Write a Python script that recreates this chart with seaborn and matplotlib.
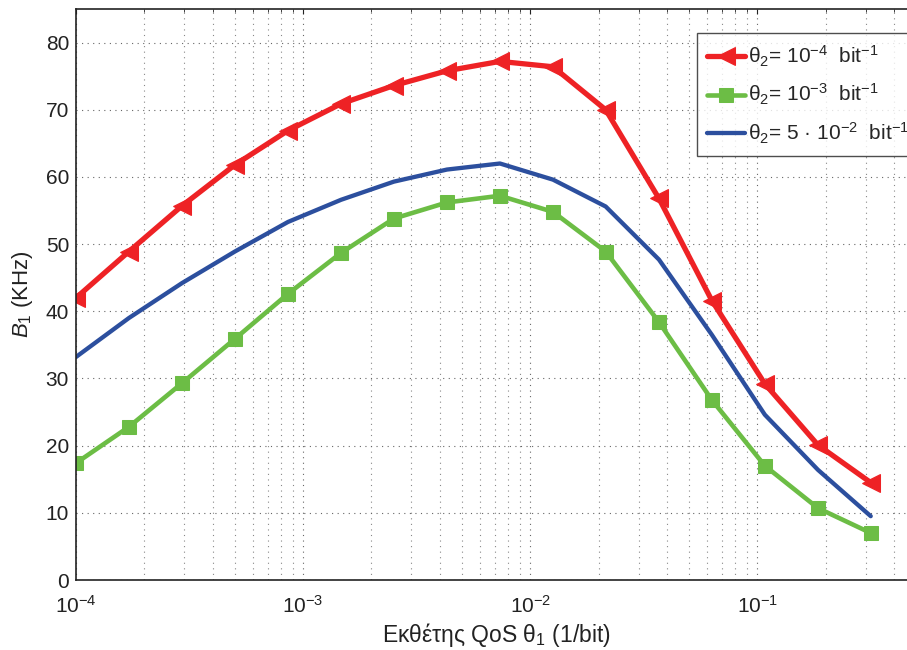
import numpy as np
import pandas as pd
import matplotlib
matplotlib.use("Agg")
import matplotlib.pyplot as plt
import seaborn as sns
from matplotlib.ticker import LogLocator, NullFormatter

theta1 = [1.00e-4, 1.71e-4, 2.93e-4, 5.01e-4, 8.58e-4, 1.47e-3, 2.51e-3, 4.30e-3,
          7.36e-3, 1.26e-2, 2.15e-2, 3.69e-2, 6.31e-2, 1.08e-1, 1.85e-1, 3.16e-1]
b_red = [42.0, 48.9, 55.7, 61.8, 66.9, 70.9, 73.6, 75.8, 77.2, 76.4, 70.0, 56.8, 41.6, 29.2, 20.1, 14.5]
b_green = [17.4, 22.8, 29.3, 35.9, 42.6, 48.7, 53.8, 56.2, 57.2, 54.8, 48.9, 38.4, 26.8, 17.0, 10.7, 7.0]
b_blue = [33.2, 39.0, 44.2, 48.9, 53.3, 56.6, 59.3, 61.1, 62.0, 59.6, 55.6, 47.7, 36.5, 24.6, 16.4, 9.5]

labels = ['θ$_2$= 10$^{-4}$  bit$^{-1}$',
          'θ$_2$= 10$^{-3}$  bit$^{-1}$',
          'θ$_2$= 5 · 10$^{-2}$  bit$^{-1}$']
xticks = [1e-4, 1e-3, 1e-2, 1e-1]
yticks = [0, 10, 20, 30, 40, 50, 60, 70, 80]

sns.set_style("white")
plt.rcParams['font.family'] = ['Liberation Sans', 'DejaVu Sans']
plt.rcParams['mathtext.fontset'] = 'custom'
plt.rcParams['mathtext.rm'] = 'Liberation Sans'
plt.rcParams['mathtext.it'] = 'Liberation Sans:italic'

df = pd.DataFrame({
    'x': theta1 * 3,
    'y': b_red + b_green + b_blue,
    'series': [labels[0]] * 16 + [labels[1]] * 16 + [labels[2]] * 16,
})

fig = plt.figure(figsize=(9.07, 6.5), dpi=100)
ax = fig.add_axes([76 / 907, 70 / 650, (916 - 76) / 907, (580 - 9) / 650])

colors = ['#EE2225', '#6CBD45', '#2C4F9E']
markers = ['<', 's', '']
msizes = [13.5, 9.5, 0]
lws = [3.8, 3.3, 3.1]
for lab, c, m, ms, lw in zip(labels, colors, markers, msizes, lws):
    sub = df[df['series'] == lab]
    sns.lineplot(data=sub, x='x', y='y', ax=ax, color=c, lw=lw,
                 marker=m if m else None, markersize=ms,
                 markeredgecolor=c, markerfacecolor=c, label=lab)

ax.set_xscale('log')
ax.set_xlim(1e-4, 0.5)
ax.set_ylim(0, 85)
ax.set_xticks(xticks)
ax.xaxis.set_minor_locator(LogLocator(base=10, subs=np.arange(2, 10)))
ax.xaxis.set_minor_formatter(NullFormatter())
ax.set_yticks(yticks)
ax.grid(True, which='major', linestyle=(0, (1, 4)), color='#666666', lw=0.8)
ax.grid(True, which='minor', axis='x', linestyle=(0, (1, 4)), color='#888888', lw=0.8)
ax.tick_params(axis='both', which='both', direction='in', top=True, right=True,
               labelsize=15, colors='#222222')
ax.tick_params(axis='x', which='major', pad=11)
ax.tick_params(axis='y', which='major', pad=5)
for s in ax.spines.values():
    s.set_color('#222222')
    s.set_linewidth(1.2)

ax.set_xlabel('Εκθέτης QoS θ$_1$ (1/bit)', fontsize=16.5, color='#222222', labelpad=3)
ax.set_ylabel('$B_1$ (KHz)', fontsize=16, color='#222222', labelpad=8)

leg = ax.legend(loc='upper left', bbox_to_anchor=(0.739, 0.958), fontsize=15,
                frameon=True, fancybox=False, handlelength=1.8, handletextpad=0.15,
                borderpad=0.5, labelspacing=0.65, borderaxespad=0)
leg.get_frame().set_edgecolor('#222222')
leg.get_frame().set_linewidth(1.0)

fig.savefig('out.png', dpi=100)
